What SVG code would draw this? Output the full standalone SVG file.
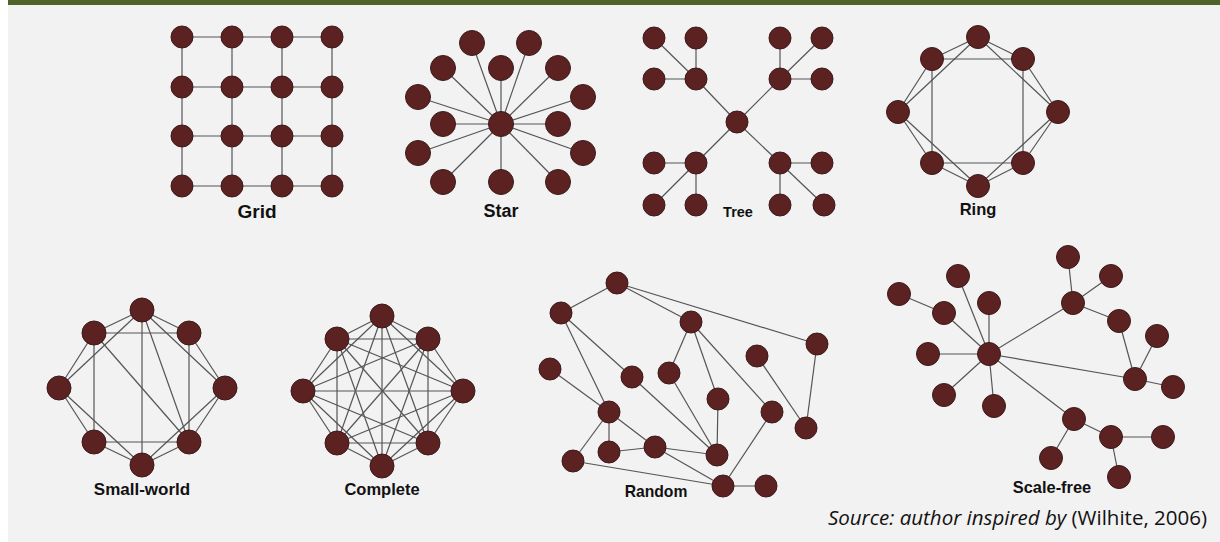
<svg xmlns="http://www.w3.org/2000/svg" width="1220" height="542" viewBox="0 0 1220 542">
  <defs>
    <style>
      .bg { fill: #f2f2f2; }
      .bar { fill: #4f6228; }
      .e line { stroke: #555; stroke-width: 1.2; }
      .n circle { fill: #5c2222; stroke: #3b1b1b; stroke-width: 1; }
      .lbl { font-family: "Liberation Sans", Arial, sans-serif; font-weight: bold; fill: #111; text-anchor: middle; }
      .src { font-family: "Open Sans", "Liberation Sans", sans-serif; font-size: 20.5px; fill: #111; }
    </style>
  </defs>

  <rect x="0" y="0" width="1220" height="542" fill="#ffffff"/>
  <rect class="bg" x="8" y="0" width="1212" height="542"/>
  <rect class="bar" x="8" y="0" width="1212" height="5"/>

  <!-- Grid -->
  <g id="grid">
    <g class="e">
      <line x1="182" y1="37" x2="332" y2="37"/><line x1="182" y1="87" x2="332" y2="87"/>
      <line x1="182" y1="136" x2="332" y2="136"/><line x1="182" y1="186" x2="332" y2="186"/>
      <line x1="182" y1="37" x2="182" y2="186"/><line x1="232" y1="37" x2="232" y2="186"/>
      <line x1="282" y1="37" x2="282" y2="186"/><line x1="332" y1="37" x2="332" y2="186"/>
    </g>
    <g class="n">
      <circle cx="182" cy="37" r="11"/><circle cx="232" cy="37" r="11"/><circle cx="282" cy="37" r="11"/><circle cx="332" cy="37" r="11"/>
      <circle cx="182" cy="87" r="11"/><circle cx="232" cy="87" r="11"/><circle cx="282" cy="87" r="11"/><circle cx="332" cy="87" r="11"/>
      <circle cx="182" cy="136" r="11"/><circle cx="232" cy="136" r="11"/><circle cx="282" cy="136" r="11"/><circle cx="332" cy="136" r="11"/>
      <circle cx="182" cy="186" r="11"/><circle cx="232" cy="186" r="11"/><circle cx="282" cy="186" r="11"/><circle cx="332" cy="186" r="11"/>
    </g>
    <text class="lbl" x="257" y="218" font-size="19">Grid</text>
  </g>

  <!-- Star -->
  <g id="star">
    <g class="e">
      <line x1="501" y1="124" x2="472" y2="43"/><line x1="501" y1="124" x2="529" y2="43"/>
      <line x1="501" y1="124" x2="443" y2="68"/><line x1="501" y1="124" x2="501" y2="68"/>
      <line x1="501" y1="124" x2="558" y2="68"/><line x1="501" y1="124" x2="418" y2="97"/>
      <line x1="501" y1="124" x2="583" y2="97"/><line x1="501" y1="124" x2="443" y2="124"/>
      <line x1="501" y1="124" x2="558" y2="124"/><line x1="501" y1="124" x2="418" y2="153"/>
      <line x1="501" y1="124" x2="583" y2="153"/><line x1="501" y1="124" x2="443" y2="182"/>
      <line x1="501" y1="124" x2="501" y2="182"/><line x1="501" y1="124" x2="558" y2="182"/>
    </g>
    <g class="n">
      <circle cx="472" cy="43" r="12.5"/><circle cx="529" cy="43" r="12.5"/>
      <circle cx="443" cy="68" r="12.5"/><circle cx="501" cy="68" r="12.5"/><circle cx="558" cy="68" r="12.5"/>
      <circle cx="418" cy="97" r="12.5"/><circle cx="583" cy="97" r="12.5"/>
      <circle cx="443" cy="124" r="12.5"/><circle cx="501" cy="124" r="12.5"/><circle cx="558" cy="124" r="12.5"/>
      <circle cx="418" cy="153" r="12.5"/><circle cx="583" cy="153" r="12.5"/>
      <circle cx="443" cy="182" r="12.5"/><circle cx="501" cy="182" r="12.5"/><circle cx="558" cy="182" r="12.5"/>
    </g>
    <text class="lbl" x="501" y="217" font-size="18">Star</text>
  </g>

  <!-- Tree -->
  <g id="tree">
    <g class="e">
      <line x1="737" y1="122" x2="696" y2="79"/><line x1="737" y1="122" x2="780" y2="79"/>
      <line x1="737" y1="122" x2="696" y2="163"/><line x1="737" y1="122" x2="780" y2="163"/>
      <line x1="696" y1="79" x2="654" y2="38"/><line x1="696" y1="79" x2="696" y2="38"/><line x1="696" y1="79" x2="654" y2="79"/>
      <line x1="780" y1="79" x2="780" y2="38"/><line x1="780" y1="79" x2="822" y2="38"/><line x1="780" y1="79" x2="822" y2="79"/>
      <line x1="696" y1="163" x2="654" y2="163"/><line x1="696" y1="163" x2="654" y2="205"/><line x1="696" y1="163" x2="696" y2="205"/>
      <line x1="780" y1="163" x2="822" y2="163"/><line x1="780" y1="163" x2="780" y2="205"/><line x1="780" y1="163" x2="824" y2="205"/>
    </g>
    <g class="n">
      <circle cx="737" cy="122" r="11"/>
      <circle cx="696" cy="79" r="11"/><circle cx="780" cy="79" r="11"/><circle cx="696" cy="163" r="11"/><circle cx="780" cy="163" r="11"/>
      <circle cx="654" cy="38" r="11"/><circle cx="696" cy="38" r="11"/><circle cx="654" cy="79" r="11"/>
      <circle cx="780" cy="38" r="11"/><circle cx="822" cy="38" r="11"/><circle cx="822" cy="79" r="11"/>
      <circle cx="654" cy="163" r="11"/><circle cx="654" cy="205" r="11"/><circle cx="696" cy="205" r="11"/>
      <circle cx="822" cy="163" r="11"/><circle cx="780" cy="205" r="11"/><circle cx="824" cy="205" r="11"/>
    </g>
    <text class="lbl" x="738" y="217" font-size="14.5">Tree</text>
  </g>

  <!-- Ring -->
  <g id="ring">
    <g class="e">
      <line x1="978" y1="37" x2="932" y2="59"/><line x1="932" y1="59" x2="898" y2="112"/>
      <line x1="898" y1="112" x2="932" y2="163"/><line x1="932" y1="163" x2="978" y2="186"/>
      <line x1="978" y1="186" x2="1023" y2="163"/><line x1="1023" y1="163" x2="1058" y2="112"/>
      <line x1="1058" y1="112" x2="1023" y2="59"/><line x1="1023" y1="59" x2="978" y2="37"/>
      <line x1="978" y1="37" x2="898" y2="112"/><line x1="978" y1="37" x2="1058" y2="112"/>
      <line x1="898" y1="112" x2="978" y2="186"/><line x1="1058" y1="112" x2="978" y2="186"/>
      <line x1="932" y1="59" x2="1023" y2="59"/><line x1="932" y1="59" x2="932" y2="163"/>
      <line x1="1023" y1="59" x2="1023" y2="163"/><line x1="932" y1="163" x2="1023" y2="163"/>
    </g>
    <g class="n">
      <circle cx="978" cy="37" r="11.5"/><circle cx="932" cy="59" r="11.5"/><circle cx="1023" cy="59" r="11.5"/>
      <circle cx="898" cy="112" r="11.5"/><circle cx="1058" cy="112" r="11.5"/>
      <circle cx="932" cy="163" r="11.5"/><circle cx="1023" cy="163" r="11.5"/><circle cx="978" cy="186" r="11.5"/>
    </g>
    <text class="lbl" x="978" y="215" font-size="16.5">Ring</text>
  </g>

  <!-- Small-world -->
  <g id="small-world">
    <g class="e">
      <line x1="142" y1="310" x2="94" y2="333"/><line x1="94" y1="333" x2="59" y2="388"/>
      <line x1="59" y1="388" x2="94" y2="442"/><line x1="94" y1="442" x2="142" y2="465"/>
      <line x1="142" y1="465" x2="189" y2="442"/><line x1="189" y1="442" x2="225" y2="388"/>
      <line x1="225" y1="388" x2="189" y2="333"/><line x1="189" y1="333" x2="142" y2="310"/>
      <line x1="142" y1="310" x2="59" y2="388"/><line x1="142" y1="310" x2="225" y2="388"/>
      <line x1="59" y1="388" x2="142" y2="465"/><line x1="225" y1="388" x2="142" y2="465"/>
      <line x1="94" y1="333" x2="189" y2="333"/><line x1="94" y1="333" x2="94" y2="442"/>
      <line x1="189" y1="333" x2="189" y2="442"/><line x1="94" y1="442" x2="189" y2="442"/>
      <line x1="94" y1="333" x2="189" y2="442"/><line x1="142" y1="310" x2="142" y2="465"/>
      <line x1="142" y1="310" x2="189" y2="442"/>
    </g>
    <g class="n">
      <circle cx="142" cy="310" r="12"/><circle cx="94" cy="333" r="12"/><circle cx="189" cy="333" r="12"/>
      <circle cx="59" cy="388" r="12"/><circle cx="225" cy="388" r="12"/>
      <circle cx="94" cy="442" r="12"/><circle cx="189" cy="442" r="12"/><circle cx="142" cy="465" r="12"/>
    </g>
    <text class="lbl" x="142" y="495" font-size="17">Small-world</text>
  </g>

  <!-- Complete -->
  <g id="complete">
    <g class="e">
      <line x1="382" y1="316" x2="337" y2="339"/><line x1="382" y1="316" x2="428" y2="339"/>
      <line x1="382" y1="316" x2="303" y2="391"/><line x1="382" y1="316" x2="463" y2="391"/>
      <line x1="382" y1="316" x2="337" y2="443"/><line x1="382" y1="316" x2="428" y2="443"/>
      <line x1="382" y1="316" x2="382" y2="466"/>
      <line x1="337" y1="339" x2="428" y2="339"/><line x1="337" y1="339" x2="303" y2="391"/>
      <line x1="337" y1="339" x2="463" y2="391"/><line x1="337" y1="339" x2="337" y2="443"/>
      <line x1="337" y1="339" x2="428" y2="443"/><line x1="337" y1="339" x2="382" y2="466"/>
      <line x1="428" y1="339" x2="303" y2="391"/><line x1="428" y1="339" x2="463" y2="391"/>
      <line x1="428" y1="339" x2="337" y2="443"/><line x1="428" y1="339" x2="428" y2="443"/>
      <line x1="428" y1="339" x2="382" y2="466"/>
      <line x1="303" y1="391" x2="463" y2="391"/><line x1="303" y1="391" x2="337" y2="443"/>
      <line x1="303" y1="391" x2="428" y2="443"/><line x1="303" y1="391" x2="382" y2="466"/>
      <line x1="463" y1="391" x2="337" y2="443"/><line x1="463" y1="391" x2="428" y2="443"/>
      <line x1="463" y1="391" x2="382" y2="466"/>
      <line x1="337" y1="443" x2="428" y2="443"/><line x1="337" y1="443" x2="382" y2="466"/>
      <line x1="428" y1="443" x2="382" y2="466"/>
    </g>
    <g class="n">
      <circle cx="382" cy="316" r="12"/><circle cx="337" cy="339" r="12"/><circle cx="428" cy="339" r="12"/>
      <circle cx="303" cy="391" r="12"/><circle cx="463" cy="391" r="12"/>
      <circle cx="337" cy="443" r="12"/><circle cx="428" cy="443" r="12"/><circle cx="382" cy="466" r="12"/>
    </g>
    <text class="lbl" x="382" y="495" font-size="16.5">Complete</text>
  </g>

  <!-- Random -->
  <g id="random">
    <g class="e">
      <line x1="617" y1="283" x2="561" y2="313"/><line x1="617" y1="283" x2="691" y2="322"/>
      <line x1="617" y1="283" x2="817" y2="344"/><line x1="561" y1="313" x2="609" y2="412"/>
      <line x1="561" y1="313" x2="632" y2="377"/><line x1="550" y1="369" x2="609" y2="412"/>
      <line x1="691" y1="322" x2="669" y2="373"/><line x1="691" y1="322" x2="718" y2="399"/>
      <line x1="691" y1="322" x2="772" y2="412"/><line x1="817" y1="344" x2="806" y2="428"/>
      <line x1="757" y1="356" x2="806" y2="428"/><line x1="632" y1="377" x2="717" y2="455"/>
      <line x1="669" y1="373" x2="717" y2="455"/><line x1="718" y1="399" x2="717" y2="455"/>
      <line x1="609" y1="412" x2="609" y2="452"/><line x1="609" y1="412" x2="655" y2="447"/>
      <line x1="609" y1="412" x2="573" y2="461"/><line x1="609" y1="452" x2="655" y2="447"/>
      <line x1="655" y1="447" x2="717" y2="455"/><line x1="655" y1="447" x2="723" y2="486"/>
      <line x1="573" y1="461" x2="723" y2="486"/><line x1="772" y1="412" x2="723" y2="486"/>
      <line x1="723" y1="486" x2="766" y2="486"/>
    </g>
    <g class="n">
      <circle cx="617" cy="283" r="11"/><circle cx="561" cy="313" r="11"/><circle cx="691" cy="322" r="11"/>
      <circle cx="817" cy="344" r="11"/><circle cx="757" cy="356" r="11"/><circle cx="550" cy="369" r="11"/>
      <circle cx="632" cy="377" r="11"/><circle cx="669" cy="373" r="11"/><circle cx="718" cy="399" r="11"/>
      <circle cx="609" cy="412" r="11"/><circle cx="772" cy="412" r="11"/><circle cx="806" cy="428" r="11"/>
      <circle cx="609" cy="452" r="11"/><circle cx="655" cy="447" r="11"/><circle cx="717" cy="455" r="11"/>
      <circle cx="573" cy="461" r="11"/><circle cx="723" cy="486" r="11"/><circle cx="766" cy="486" r="11"/>
    </g>
    <text class="lbl" x="656" y="497" font-size="15.7">Random</text>
  </g>

  <!-- Scale-free -->
  <g id="scale-free">
    <g class="e">
      <line x1="899" y1="294" x2="944" y2="313"/><line x1="944" y1="313" x2="989" y2="354"/>
      <line x1="958" y1="276" x2="989" y2="354"/><line x1="989" y1="303" x2="989" y2="354"/>
      <line x1="928" y1="354" x2="989" y2="354"/><line x1="944" y1="395" x2="989" y2="354"/>
      <line x1="994" y1="406" x2="989" y2="354"/><line x1="989" y1="354" x2="1073" y2="303"/>
      <line x1="989" y1="354" x2="1135" y2="379"/><line x1="989" y1="354" x2="1074" y2="419"/>
      <line x1="1068" y1="257" x2="1073" y2="303"/><line x1="1111" y1="276" x2="1073" y2="303"/>
      <line x1="1073" y1="303" x2="1119" y2="321"/><line x1="1119" y1="321" x2="1135" y2="379"/>
      <line x1="1157" y1="336" x2="1135" y2="379"/><line x1="1135" y1="379" x2="1173" y2="387"/>
      <line x1="1074" y1="419" x2="1111" y2="437"/><line x1="1074" y1="419" x2="1051" y2="458"/>
      <line x1="1111" y1="437" x2="1163" y2="437"/><line x1="1111" y1="437" x2="1119" y2="477"/>
    </g>
    <g class="n">
      <circle cx="989" cy="354" r="11.5"/><circle cx="899" cy="294" r="11.5"/><circle cx="944" cy="313" r="11.5"/>
      <circle cx="958" cy="276" r="11.5"/><circle cx="989" cy="303" r="11.5"/><circle cx="928" cy="354" r="11.5"/>
      <circle cx="944" cy="395" r="11.5"/><circle cx="994" cy="406" r="11.5"/><circle cx="1068" cy="257" r="11.5"/>
      <circle cx="1111" cy="276" r="11.5"/><circle cx="1073" cy="303" r="11.5"/><circle cx="1119" cy="321" r="11.5"/>
      <circle cx="1157" cy="336" r="11.5"/><circle cx="1135" cy="379" r="11.5"/><circle cx="1173" cy="387" r="11.5"/>
      <circle cx="1074" cy="419" r="11.5"/><circle cx="1111" cy="437" r="11.5"/><circle cx="1051" cy="458" r="11.5"/>
      <circle cx="1163" cy="437" r="11.5"/><circle cx="1119" cy="477" r="11.5"/>
    </g>
    <text class="lbl" x="1052" y="493" font-size="16.4">Scale-free</text>
  </g>

  <!-- Source note -->
  <text class="src" x="1207" y="525" text-anchor="end"><tspan font-style="italic">Source: author inspired by</tspan> (Wilhite, 2006)</text>
</svg>
